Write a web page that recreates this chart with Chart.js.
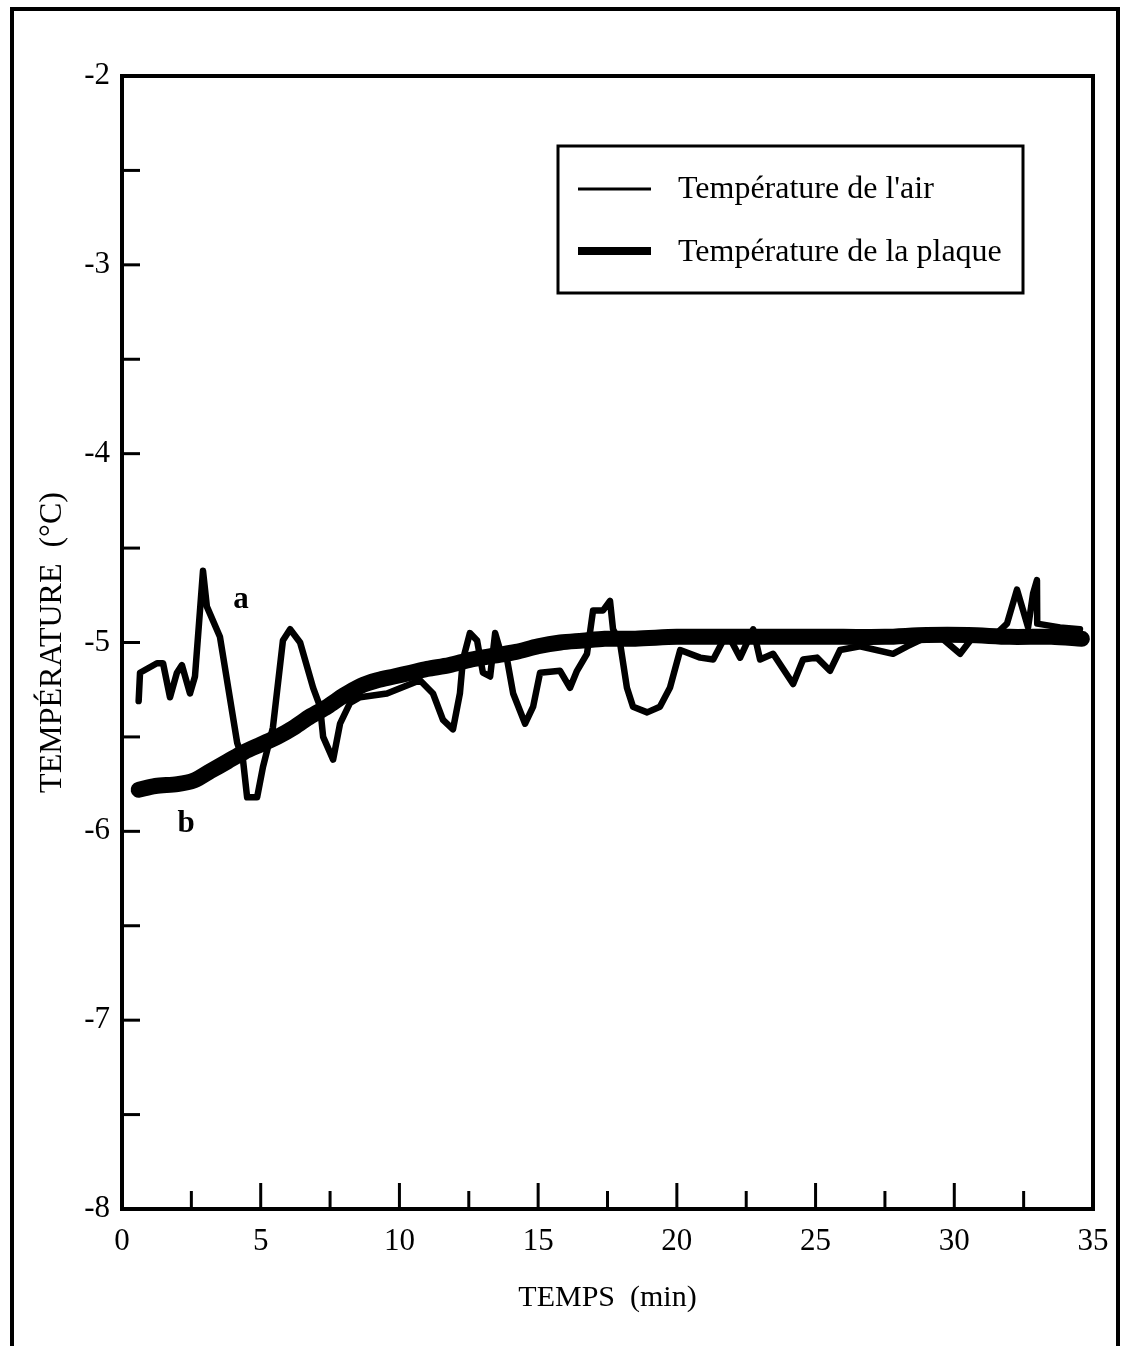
<!DOCTYPE html>
<html>
<head>
<meta charset="utf-8">
<script src="https://cdn.jsdelivr.net/npm/chart.js@4.4.0/dist/chart.umd.min.js"></script>
<style>
  html, body { margin: 0; padding: 0; background: #fff; }
  #wrap { width: 1125px; height: 1346px; position: relative; }
</style>
</head>
<body>
<div id="wrap"><canvas id="myChart"></canvas></div>
<script>
// air temperature (a)
var airTime = [0.6, 0.65, 1.26, 1.48, 1.73, 1.98, 2.16, 2.45, 2.63, 2.92, 3.06, 3.53, 4.15, 4.36, 4.51, 4.87,
  5.08, 5.44, 5.80, 6.06, 6.42, 6.89, 7.14, 7.25, 7.61, 7.86, 8.22, 8.58, 9.55, 10.74, 11.21, 11.57, 11.93,
  12.18, 12.29, 12.54, 12.80, 13.01, 13.27, 13.45, 13.63, 13.88, 14.10, 14.53, 14.82, 15.07, 15.79, 16.15,
  16.40, 16.76, 16.98, 17.34, 17.59, 17.70, 17.95, 18.20, 18.42, 18.93, 19.39, 19.75, 20.12, 20.84, 21.31,
  21.81, 22.28, 22.75, 23.00, 23.47, 24.19, 24.55, 25.05, 25.52, 25.88, 26.60, 27.79, 28.30, 29.02, 29.49,
  30.21, 30.68, 31.40, 31.90, 32.26, 32.48, 32.66, 32.84, 32.98, 32.99, 33.81, 34.53];
var airTemp = [-5.31, -5.16, -5.11, -5.11, -5.29, -5.16, -5.12, -5.27, -5.18, -4.62, -4.81, -4.97, -5.53, -5.62, -5.82, -5.82,
  -5.66, -5.45, -4.99, -4.93, -5.00, -5.24, -5.34, -5.50, -5.62, -5.43, -5.32, -5.29, -5.27, -5.20, -5.27, -5.41, -5.46,
  -5.27, -5.09, -4.95, -4.99, -5.16, -5.18, -4.95, -5.04, -5.09, -5.27, -5.43, -5.34, -5.16, -5.15, -5.24,
  -5.15, -5.06, -4.83, -4.83, -4.78, -4.93, -5.00, -5.24, -5.34, -5.37, -5.34, -5.24, -5.04, -5.08, -5.09,
  -4.95, -5.08, -4.93, -5.09, -5.06, -5.22, -5.09, -5.08, -5.15, -5.04, -5.02, -5.06, -5.02, -4.97, -4.97,
  -5.06, -4.97, -4.97, -4.90, -4.72, -4.83, -4.92, -4.74, -4.67, -4.90, -4.92, -4.93];

// plate temperature, thick curve (b)
var plateTime = [0.6, 1.2, 2.0, 2.6, 3.2, 3.8, 4.4, 5.0, 5.6, 6.2, 6.8, 7.4, 8.0, 8.6, 9.2, 9.8, 10.4, 11.0,
  11.8, 12.6, 13.4, 14.2, 15.0, 15.8, 16.6, 17.4, 18.5, 20, 21.5, 23, 24.5, 26, 27.5, 29, 30.5, 32, 33.5, 34.6];
var plateTemp = [-5.78, -5.76, -5.75, -5.73, -5.68, -5.63, -5.58, -5.54, -5.50, -5.45, -5.39, -5.34, -5.28, -5.23,
  -5.20, -5.18, -5.16, -5.14, -5.12, -5.09, -5.07, -5.05, -5.02, -5.00, -4.99, -4.98, -4.98, -4.97, -4.97, -4.97,
  -4.97, -4.97, -4.97, -4.96, -4.96, -4.97, -4.97, -4.98];

var seriesLabels = ["Température de l'air", "Température de la plaque"];
var xTitle = 'TEMPS  (min)';
var yTitle = 'TEMPÉRATURE  (°C)';

var serif = "'Liberation Serif', 'Times New Roman', serif";

function pts(xs, ys) {
  var out = [];
  for (var i = 0; i < xs.length; i++) out.push({ x: xs[i], y: ys[i] });
  return out;
}

// frame, plot box, inside ticks, legend box and curve labels
var decor = {
  id: 'decor',
  beforeDraw: function (chart) {
    var c = chart.ctx;
    c.save();
    c.fillStyle = '#fff';
    c.fillRect(0, 0, chart.width, chart.height);
    c.strokeStyle = '#000';
    c.lineWidth = 4;
    c.beginPath();
    c.moveTo(12, 1346);
    c.lineTo(12, 9);
    c.lineTo(1118, 9);
    c.lineTo(1118, 1346);
    c.stroke();
    c.restore();
  },
  afterDraw: function (chart) {
    var c = chart.ctx;
    var a = chart.chartArea;
    var xs = chart.scales.x, ys = chart.scales.y;
    c.save();
    c.strokeStyle = '#000';
    c.lineWidth = 4;
    c.strokeRect(a.left, a.top, a.right - a.left, a.bottom - a.top);

    c.lineWidth = 3;
    ys.ticks.forEach(function (t) {
      var y = ys.getPixelForValue(t.value);
      c.beginPath();
      c.moveTo(a.left, y);
      c.lineTo(a.left + 18, y);
      c.stroke();
    });
    xs.ticks.forEach(function (t) {
      var x = xs.getPixelForValue(t.value);
      var len = (t.value % 5 === 0) ? 26 : 18;
      c.beginPath();
      c.moveTo(x, a.bottom);
      c.lineTo(x, a.bottom - len);
      c.stroke();
    });

    // legend
    c.lineWidth = 3;
    c.strokeRect(558, 146, 465, 147);
    c.beginPath();
    c.lineWidth = 3;
    c.moveTo(578, 189);
    c.lineTo(651, 189);
    c.stroke();
    c.beginPath();
    c.lineWidth = 8;
    c.moveTo(578, 251);
    c.lineTo(651, 251);
    c.stroke();
    c.fillStyle = '#000';
    c.font = '32px ' + serif;
    c.textBaseline = 'middle';
    c.textAlign = 'left';
    c.fillText(seriesLabels[0], 678, 190);
    c.fillText(seriesLabels[1], 678, 253);

    c.font = 'bold 31px ' + serif;
    c.textAlign = 'center';
    c.fillText('a', 241, 600);
    c.fillText('b', 186, 824);
    c.restore();
  }
};

var ctx = document.getElementById('myChart').getContext('2d');
var myChart = new Chart(ctx, {
  type: 'line',
  data: {
    datasets: [
      {
        label: seriesLabels[0],
        data: pts(airTime, airTemp),
        borderColor: '#000',
        borderWidth: 6.5,
        pointRadius: 0,
        tension: 0,
        borderJoinStyle: 'round',
        borderCapStyle: 'round'
      },
      {
        label: seriesLabels[1],
        data: pts(plateTime, plateTemp),
        borderColor: '#000',
        borderWidth: 16,
        pointRadius: 0,
        tension: 0.3,
        borderJoinStyle: 'round',
        borderCapStyle: 'round'
      }
    ]
  },
  options: {
    responsive: true,
    maintainAspectRatio: false,
    animation: false,
    layout: { padding: { left: 0, top: 76, right: 32, bottom: 0 } },
    plugins: { legend: { display: false }, tooltip: { enabled: false } },
    scales: {
      x: {
        type: 'linear',
        min: 0,
        max: 35,
        grid: { display: false, drawTicks: false },
        border: { display: false },
        ticks: {
          stepSize: 2.5,
          padding: 14,
          color: '#000',
          font: { family: serif, size: 31 },
          callback: function (v) { return v % 5 === 0 ? v : ''; }
        },
        title: { display: true, text: xTitle, color: '#000', font: { family: serif, size: 30 }, padding: { top: 0, bottom: 30 } },
        afterFit: function (s) { s.height = 137; }
      },
      y: {
        min: -8,
        max: -2,
        grid: { display: false, drawTicks: false },
        border: { display: false },
        ticks: {
          stepSize: 0.5,
          padding: 12,
          color: '#000',
          font: { family: serif, size: 31 },
          callback: function (v) { return Number.isInteger(v) ? v : ''; }
        },
        title: { display: true, text: yTitle, color: '#000', font: { family: serif, size: 32 }, padding: { top: 33, bottom: 0 } },
        afterFit: function (s) { s.width = 122; }
      }
    }
  },
  plugins: [decor]
});
</script>
</body>
</html>
